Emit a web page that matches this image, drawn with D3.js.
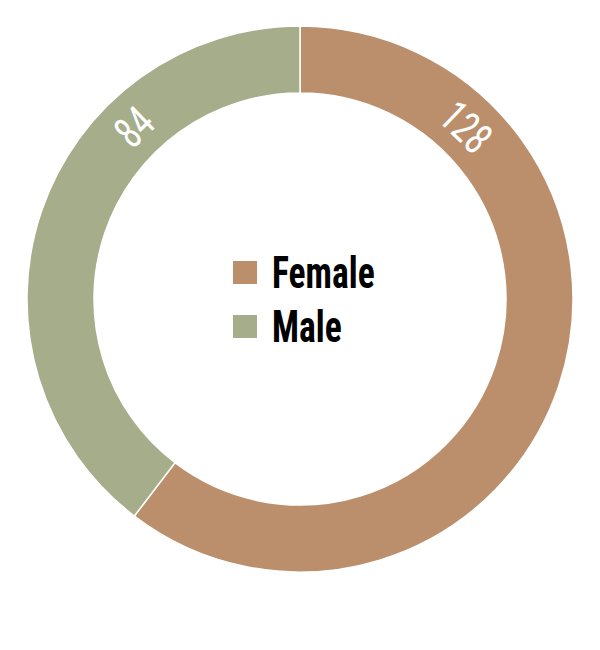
<!DOCTYPE html>
<html>
<head>
<meta charset="utf-8">
<script src="https://cdn.jsdelivr.net/npm/d3@7"></script>
<style>
  body { margin: 0; background: #fff; }
  svg { display: block; }
</style>
</head>
<body>
<div id="chart"></div>
<script>
"use strict";

var categories = ["Female", "Male"];
var counts = [128, 84];
var colours = ["#bb8f6b", "#a5ad8b"];

var width = 600, height = 650;
var cx = 300, cy = 299;
var outerR = 273, innerR = 206;
var fontFam = "'Roboto Condensed','Liberation Sans Narrow','DejaVu Sans Condensed',sans-serif";

var svg = d3.select("#chart").append("svg")
	.attr("width", width).attr("height", height);

var g = svg.append("g").attr("transform", "translate(" + cx + "," + cy + ")");

var colour = d3.scaleOrdinal().domain(categories).range(colours);

var pie = d3.pie().sort(null).value(function(d){ return d.value; });
var arc = d3.arc().innerRadius(innerR).outerRadius(outerR);

var data = categories.map(function(c, i){ return {name: c, value: counts[i]}; });
var slices = pie(data);

g.selectAll("path.slice")
	.data(slices)
	.enter().append("path")
	.attr("class", "slice")
	.attr("d", arc)
	.attr("fill", function(d){ return colour(d.data.name); })
	.attr("stroke", "#fff")
	.attr("stroke-width", 1.5);

// labels sit ~44deg in from the top of the ring, turned along the arc
var offset = 44 * Math.PI / 180;
var midR = (innerR + outerR) / 2;
function labelAngle(d){
	return d.index === 0 ? d.startAngle + offset : d.endAngle - offset;
}

g.selectAll("text.val")
	.data(slices)
	.enter().append("text")
	.attr("class", "val")
	.attr("transform", function(d){
		var a = labelAngle(d);
		var deg = a * 180 / Math.PI;
		if (deg > 180) deg -= 360;
		return "translate(" + (midR * Math.sin(a)) + "," + (-midR * Math.cos(a)) + ") rotate(" + deg + ") scale(0.8,1)";
	})
	.attr("text-anchor", "middle")
	.attr("dy", "0.36em")
	.attr("fill", "#fff")
	.style("font-family", fontFam)
	.style("font-weight", 400)
	.style("font-size", "44px")
	.text(function(d){ return d.data.value; });

// legend in the middle
var sx = 0.79;
var legend = svg.append("g").attr("transform", "translate(233,261)");
var item = legend.selectAll("g")
	.data(categories)
	.enter().append("g")
	.attr("transform", function(d, i){ return "translate(0," + (i * 54) + ")"; });

item.append("rect")
	.attr("width", 24).attr("height", 23)
	.attr("fill", function(d){ return colour(d); });

item.append("text")
	.attr("transform", "translate(39,27) scale(" + sx + ",1)")
	.attr("fill", "#000")
	.style("font-family", fontFam)
	.style("font-weight", "bold")
	.style("font-size", "45px")
	.text(function(d){ return d; });
</script>
</body>
</html>
